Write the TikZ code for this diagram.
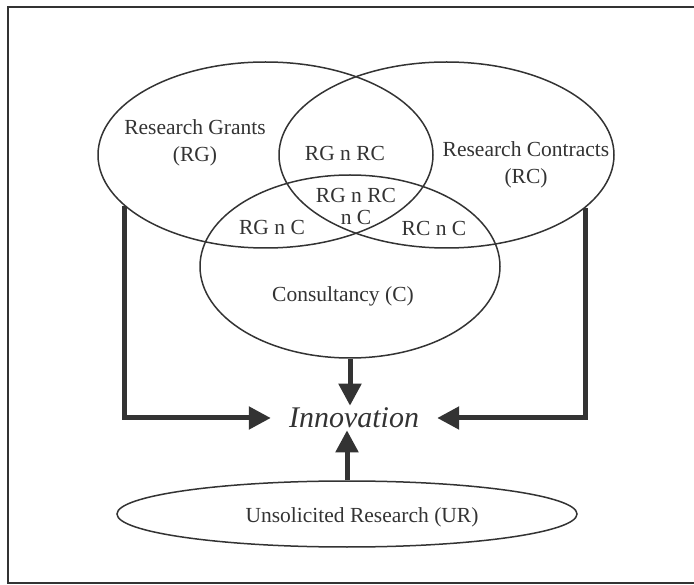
\documentclass[tikz,border=0pt]{standalone}
\usepackage{fontspec}
\setmainfont{Liberation Serif}
\usepackage{tikz}
\usetikzlibrary{arrows.meta, positioning, shapes.geometric, calc}
\definecolor{inkgray}{HTML}{333333}
\tikzset{
  setellipse/.style={
    draw=inkgray, ellipse, line width=1.5pt, inner sep=0pt
  },
  setlabel/.style={
    align=center, text=inkgray, inner sep=0pt,
    font=\fontsize{21.5}{27}\selectfont
  },
  flowarrow/.style={
    draw=inkgray, line width=5pt,
    -{Triangle[length=22pt, width=22pt]}
  }
}

\begin{document}
\begin{tikzpicture}[x=1pt, y=-1pt]
    \useasboundingbox (0,0) rectangle (694,585);
    % outer frame (right side runs off the page)
    \draw[inkgray, line width=2.5pt] (694,7) -- (8,7) -- (8,583) -- (694,583);

    % the three sets and unsolicited research
    \node[setellipse, minimum width=335pt, minimum height=186pt] (rg) at (265.5,155) {};
    \node[setellipse, minimum width=335pt, minimum height=186pt] (rc) at (446.5,155) {};
    \node[setellipse, minimum width=300pt, minimum height=183pt] (c) at (350,266.5) {};
    \node[setellipse, minimum width=460pt, minimum height=66pt] (ur) at (347,514) {};

    % region labels
    \node[setlabel] (rglabel) at (195,143) {Research Grants\\(RG)};
    \node[setlabel] (rclabel) at (526,165) {Research Contracts\\(RC)};
    \node[setlabel] (clabel) at (343,296) {Consultancy (C)};
    \node[setlabel] (urlabel) at (362,517) {Unsolicited Research (UR)};
    \node[setlabel] (rgrc) at (345,153) {RG n RC};
    \node[setlabel, font=\fontsize{21.5}{22}\selectfont] (rgrcc) at (356,206) {RG n RC\\n C};
    \node[setlabel] (rgcl) at (272,227) {RG n C};
    \node[setlabel] (rccl) at (434,228) {RC n C};

    \node[text=inkgray, inner xsep=18pt, inner ysep=2pt,
          font=\fontsize{30}{36}\selectfont\itshape] (innov) at (354,418) {Innovation};

    \draw[flowarrow] (rg.200.6) |- (innov.west);
    \draw[flowarrow] (rc.339.2) |- (innov.east);
    \draw[flowarrow] (c.south) -- (c.south |- innov.north);
    \draw[flowarrow] (ur.north) -- (ur.north |- innov.south);
\end{tikzpicture}
\end{document}
